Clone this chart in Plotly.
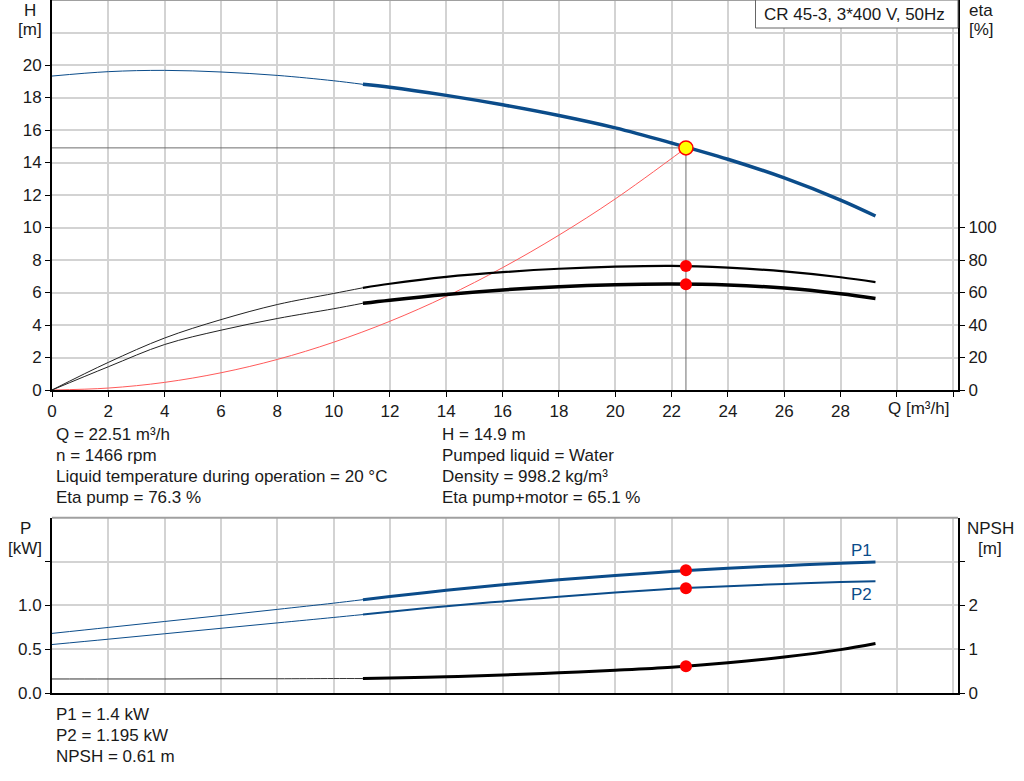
import plotly.graph_objects as go

# flow points, thin part (outside operating range) and thick part
q_low = [0, 2, 4, 6, 8, 10, 11.04]
q_high = [11.04, 12, 14, 16, 18, 20, 22, 24, 26, 28, 29.24]

head_low = [19.32, 19.59, 19.67, 19.57, 19.36, 19.03, 18.81]
head_high = [18.81, 18.63, 18.13, 17.55, 16.89, 16.13, 15.2, 14.2, 13.05, 11.69, 10.71]

eta_pump_low = [0, 17.0, 32.0, 43.3, 52.6, 59.4, 62.9]
eta_pump_high = [62.9, 65.4, 69.6, 72.5, 74.6, 75.9, 76.4, 75.3, 73.0, 69.4, 66.4]

eta_total_low = [0, 14.3, 28.0, 36.8, 44.0, 50.0, 53.4]
eta_total_high = [53.4, 55.3, 58.8, 61.6, 63.6, 64.8, 65.2, 64.6, 62.7, 59.2, 56.3]

q_system = [0, 2, 4, 6, 8, 10, 12, 14, 16, 18, 20, 22.51]
head_system = [0, 0.12, 0.47, 1.06, 1.88, 2.94, 4.23, 5.76, 7.53, 9.53, 11.76, 14.9]

p1_low = [0.68, 0.748, 0.816, 0.884, 0.954, 1.025, 1.065]
p1_high = [1.065, 1.10, 1.172, 1.235, 1.292, 1.341, 1.385, 1.422, 1.453, 1.479, 1.495]
p2_low = [0.553, 0.614, 0.676, 0.738, 0.80, 0.862, 0.895]
p2_high = [0.895, 0.928, 0.99, 1.045, 1.097, 1.148, 1.188, 1.218, 1.245, 1.265, 1.276]
npsh_low = [0.32, 0.32, 0.32, 0.325, 0.325, 0.33, 0.33]
npsh_high = [0.33, 0.34, 0.37, 0.41, 0.46, 0.52, 0.59, 0.69, 0.82, 0.99, 1.13]

duty_q = 22.51
duty_h = 14.9
duty_eta = [76.3, 65.1]
duty_p = [1.4, 1.195]
duty_npsh = 0.61

x_ticks = list(range(0, 34, 2))
x_labels = [str(v) for v in range(0, 30, 2)] + ["", ""]

info_left = ["Q = 22.51 m³/h", "n = 1466 rpm",
             "Liquid temperature during operation = 20 °C", "Eta pump = 76.3 %"]
info_right = ["H = 14.9 m", "Pumped liquid = Water",
              "Density = 998.2 kg/m³", "Eta pump+motor = 65.1 %"]
info_bottom = ["P1 = 1.4 kW", "P2 = 1.195 kW", "NPSH = 0.61 m"]
title_text = "CR 45-3, 3*400 V, 50Hz"

BLUE = "#0b4c8a"
GRID = "#d3d3d3"
FONT = "Arial, Liberation Sans, sans-serif"
FS = 17

W, H = 1024, 781
ML, MR, MT, MB = 52, 66, 0, 88
PW, PH = W - ML - MR, H - MT - MB


def px(x):
    return (x - ML) / PW


def py(y):
    return (MT + PH - y) / PH


fig = go.Figure()


def line(x, y, color, width, xa="x", ya="y", shape="spline"):
    fig.add_trace(go.Scatter(x=x, y=y, mode="lines", xaxis=xa, yaxis=ya,
                             line=dict(color=color, width=width, shape=shape),
                             hoverinfo="skip", showlegend=False))


# duty point guide lines
line([0, duty_q, duty_q], [duty_h, duty_h, 0], "#6e6e6e", 1, shape="linear")
line(q_system, head_system, "#ff5a5a", 1)

line(q_low, head_low, BLUE, 1)
line(q_high, head_high, BLUE, 3.5)
line(q_low, eta_pump_low, "#222222", 1, ya="y2")
line(q_high, eta_pump_high, "black", 2.2, ya="y2")
line(q_low, eta_total_low, "#222222", 1, ya="y2")
line(q_high, eta_total_high, "black", 3.5, ya="y2")

line(q_low, p1_low, BLUE, 1, "x2", "y3")
line(q_high, p1_high, BLUE, 3, "x2", "y3")
line(q_low, p2_low, BLUE, 1, "x2", "y3")
line(q_high, p2_high, BLUE, 2, "x2", "y3")
line(q_low, npsh_low, "#333333", 1, "x2", "y4")
line(q_high, npsh_high, "black", 3, "x2", "y4")

dot = dict(color="#ff0000", size=12)
fig.add_trace(go.Scatter(x=[duty_q] * 2, y=duty_eta, mode="markers", yaxis="y2",
                         marker=dot, hoverinfo="skip", showlegend=False))
fig.add_trace(go.Scatter(x=[duty_q] * 2, y=duty_p, mode="markers", xaxis="x2", yaxis="y3",
                         marker=dot, hoverinfo="skip", showlegend=False))
fig.add_trace(go.Scatter(x=[duty_q], y=[duty_npsh], mode="markers", xaxis="x2", yaxis="y4",
                         marker=dot, hoverinfo="skip", showlegend=False))
fig.add_trace(go.Scatter(x=[duty_q], y=[duty_h], mode="markers",
                         marker=dict(color="#ffff00", size=14, line=dict(color="#ff0000", width=1.5)),
                         hoverinfo="skip", showlegend=False))

tickfont = dict(family=FONT, size=FS, color="#1a1a1a")
common_x = dict(range=[0, 32.17], tickvals=x_ticks, showgrid=True, gridcolor=GRID, gridwidth=1.5,
                zeroline=False, showline=True, linecolor="black", linewidth=2)
fig.update_layout(
    width=W, height=H,
    margin=dict(l=ML, r=MR, t=MT, b=MB),
    paper_bgcolor="white", plot_bgcolor="white",
    font=dict(family=FONT, size=FS, color="#1a1a1a"),
    xaxis=dict(common_x, anchor="y", ticktext=x_labels, ticks="outside", ticklen=5,
               tickcolor="black", tickfont=tickfont),
    xaxis2=dict(common_x, anchor="y3", showticklabels=False, ticks=""),
    yaxis=dict(domain=[py(390), 1], range=[0, 24.0], tickvals=list(range(0, 22, 2)),
               showgrid=True, gridcolor=GRID, gridwidth=1.5, zeroline=False,
               showline=True, linecolor="black", linewidth=2, ticks="outside", ticklen=5,
               tickcolor="black", tickfont=tickfont,
               minor=dict(tickmode="array", tickvals=[22], showgrid=True, gridcolor=GRID,
                          gridwidth=1.5, ticks="")),
    yaxis2=dict(overlaying="y", side="right", anchor="x", range=[0, 240],
                tickvals=list(range(0, 120, 20)), showgrid=False, zeroline=False,
                showline=True, linecolor="black", linewidth=2, ticks="outside", ticklen=5,
                tickcolor="black", tickfont=tickfont),
    yaxis3=dict(domain=[0, py(517.7)], anchor="x2", range=[0, 2],
                tickvals=[0, 0.5, 1.0, 1.5], ticktext=["0.0", "0.5", "1.0", ""],
                showgrid=True, gridcolor=GRID, gridwidth=1.5, zeroline=False,
                showline=True, linecolor="black", linewidth=2, ticks="outside", ticklen=5,
                tickcolor="black", tickfont=tickfont),
    yaxis4=dict(overlaying="y3", side="right", anchor="x2", range=[0, 4],
                tickvals=[0, 1, 2, 3], ticktext=["0", "1", "2", ""], showgrid=False,
                zeroline=False, showline=True, linecolor="black", linewidth=2,
                ticks="outside", ticklen=5, tickcolor="black", tickfont=tickfont),
)

# top borders and title box
fig.add_shape(type="line", xref="paper", yref="paper", x0=0, x1=1, y0=py(517.7), y1=py(517.7),
              line=dict(color="#a0a0a0", width=2))
fig.add_shape(type="line", xref="paper", yref="paper", x0=0, x1=1, y0=1, y1=1,
              line=dict(color="#a0a0a0", width=2))
fig.add_shape(type="rect", xref="paper", yref="paper", x0=px(755.5), x1=1, y0=py(28), y1=1,
              line=dict(color="#666666", width=1), fillcolor="white")


def text(s, x, y, anchor="left", color="#1a1a1a"):
    fig.add_annotation(text=s, x=px(x), y=py(y), xref="paper", yref="paper",
                       xanchor=anchor, yanchor="middle", showarrow=False,
                       font=dict(family=FONT, size=FS, color=color))


text(title_text, 762, 14)
text("H", 30, 10, "center")
text("[m]", 30, 30, "center")
text("eta", 981, 10, "center")
text("[%]", 981, 30, "center")
text("P", 25, 528, "center")
text("[kW]", 25, 548, "center")
text("NPSH", 990, 528, "center")
text("[m]", 990, 548, "center")
text("Q [m³/h]", 918, 408, "center")
text("P1", 861, 550, "center", BLUE)
text("P2", 861, 594, "center", BLUE)

for i, s in enumerate(info_left):
    text(s, 54, 434 + i * 21.3)
for i, s in enumerate(info_right):
    text(s, 440, 434 + i * 21.3)
for i, s in enumerate(info_bottom):
    text(s, 54, 714 + i * 21)

fig.write_html("out.html", config={"displayModeBar": False},
               post_script="document.body.style.margin = '0';")
